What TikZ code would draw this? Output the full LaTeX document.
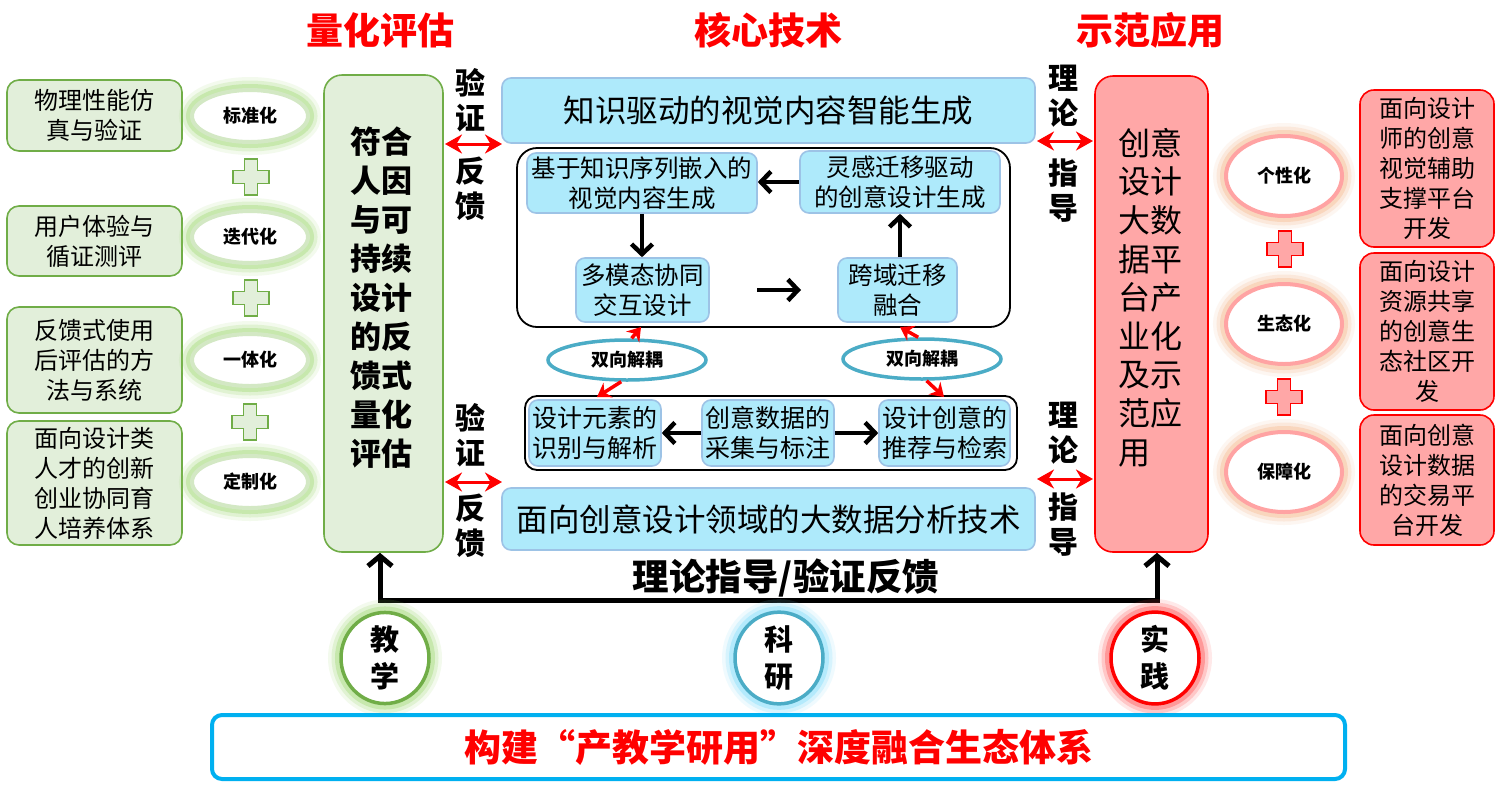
\documentclass[tikz,border=0pt]{standalone}
\usepackage{fontspec}
\setmainfont{Noto Sans CJK SC}
\usetikzlibrary{arrows.meta,shapes.geometric}
\definecolor{gfill}{HTML}{E2EFDA}
\definecolor{gline}{HTML}{70AD47}
\definecolor{gring}{HTML}{D3E8C4}
\definecolor{gglow}{HTML}{9FD873}
\definecolor{bfill}{HTML}{AEEAFB}
\definecolor{bline}{HTML}{9DC3E6}
\definecolor{pfill}{HTML}{FFA7A7}
\definecolor{pring}{HTML}{FFA3A3}
\definecolor{oglow}{HTML}{F6B98E}
\definecolor{tealc}{HTML}{4BACC6}
\definecolor{tglow}{HTML}{7FDDFB}
\definecolor{skyc}{HTML}{00B0F0}
\definecolor{rglow}{HTML}{FF5050}
\tikzset{
  gbox/.style={draw=gline, fill=gfill, line width=1.6pt, rounded corners=12pt, inner sep=0pt, align=center, font=\fontsize{24}{30}\selectfont},
  bbox/.style={draw=bline, fill=bfill, line width=1.6pt, rounded corners=9pt, inner sep=0pt, align=center},
  pbox/.style={draw=red, fill=pfill, line width=1.6pt, rounded corners=14pt, inner sep=0pt, align=center, font=\fontsize{24}{30}\selectfont},
  framebox/.style={draw=black, line width=1.8pt, inner sep=0pt},
  glow/.style={preaction={draw=#1, line width=26pt, opacity=0.12},
               preaction={draw=#1, line width=19pt, opacity=0.22},
               preaction={draw=#1, line width=12pt, opacity=0.38}},
  lell/.style={ellipse, fill=white, draw=gring, line width=4pt, glow=gglow, inner sep=0pt,
               minimum width=116pt, minimum height=52pt, font=\bfseries\fontsize{18}{18}\selectfont},
  rell/.style={ellipse, fill=white, draw=pring, line width=4pt, glow=oglow, inner sep=0pt,
               minimum width=116pt, minimum height=80pt, font=\bfseries\fontsize{18}{18}\selectfont},
  dell/.style={ellipse, fill=white, draw=tealc, line width=3.5pt, inner sep=0pt,
               minimum width=158pt, minimum height=40pt, font=\bfseries\fontsize{18}{18}\selectfont},
  circ/.style={ellipse, fill=white, line width=3.5pt, inner sep=0pt, minimum width=88pt, minimum height=84pt,
               align=center, font=\bfseries\fontsize{29}{37}\selectfont},
  vlab/.style={align=center, inner sep=0pt, font=\bfseries\fontsize{30}{35}\selectfont},
  title/.style={text=red, inner sep=0pt, font=\bfseries\fontsize{37}{37}\selectfont},
  blk/.style={line width=4.5pt, -{Straight Barb[length=10pt,width=21pt]}},
  bigarr/.style={line width=5pt, {Straight Barb[length=10pt,width=24pt]}-{Straight Barb[length=10pt,width=24pt]}},
  rdbl/.style={red, line width=3pt, {Stealth[length=17pt,width=19pt]}-{Stealth[length=17pt,width=19pt]}},
  rarr/.style={red, line width=3.5pt, -{Stealth[length=13pt,width=17pt]}},
  plussign/.pic={\path[pic actions] (-6.5,-18) -- (6.5,-18) -- (6.5,-6.5) -- (18,-6.5) -- (18,6.5) -- (6.5,6.5)
      -- (6.5,18) -- (-6.5,18) -- (-6.5,6.5) -- (-18,6.5) -- (-18,-6.5) -- (-6.5,-6.5) -- cycle;}
}
\begin{document}
\begin{tikzpicture}[x=1pt,y=-1pt]
\useasboundingbox[fill=white] (0,0) rectangle (1500,785);

% titles
\node[title] (t1) at (380,30) {量化评估};
\node[title] (t2) at (768,30) {核心技术};
\node[title] (t3) at (1150,30) {示范应用};

% left column boxes
\node[gbox, minimum width=175pt, minimum height=71pt] (l1) at (94.5,115.5) {物理性能仿\\真与验证};
\node[gbox, minimum width=175pt, minimum height=70pt] (l2) at (94.5,241) {用户体验与\\循证测评};
\node[gbox, minimum width=175pt, minimum height=106pt] (l3) at (94.5,360) {反馈式使用\\后评估的方\\法与系统};
\node[gbox, minimum width=175pt, minimum height=124pt] (l4) at (94.5,483) {面向设计类\\人才的创新\\创业协同育\\人培养体系};

% left ellipses and plus signs
\node[lell] (e1) at (250,116) {标准化};
\node[lell] (e2) at (250,237) {迭代化};
\node[lell] (e3) at (250,360) {一体化};
\node[lell] (e4) at (250,482) {定制化};
\pic[draw=gline, fill=gfill, line width=1.6pt] at (251,177) {plussign};
\pic[draw=gline, fill=gfill, line width=1.6pt] at (251,298) {plussign};
\pic[draw=gline, fill=gfill, line width=1.6pt] at (250,422) {plussign};

% big left box
\node[draw=gline, fill=gfill, line width=1.6pt, rounded corners=18pt, minimum width=119pt, minimum height=477pt] (bl) at (383.5,313.5) {};
\node[align=center, inner sep=0pt, font=\bfseries\fontsize{31}{39}\selectfont] (blt) at (381,297.5) {符合\\人因\\与可\\持续\\设计\\的反\\馈式\\量化\\评估};

% big right box
\node[draw=red, fill=pfill, line width=1.6pt, rounded corners=18pt, minimum width=113pt, minimum height=476pt] (br) at (1151.5,314) {};
\node[align=left, inner sep=0pt, font=\fontsize{32}{38.6}\selectfont] (brt) at (1150,297.5) {创意\\设计\\大数\\据平\\台产\\业化\\及示\\范应\\用};

% right ellipses and plus signs
\node[rell] (r1) at (1284,176) {个性化};
\node[rell] (r2) at (1284,324) {生态化};
\node[rell] (r3) at (1284,472) {保障化};
\pic[draw=red, fill=pfill, line width=1.6pt] at (1285,249) {plussign};
\pic[draw=red, fill=pfill, line width=1.6pt] at (1284,397) {plussign};

% right column boxes
\node[pbox, minimum width=134pt, minimum height=157pt] (p1) at (1427,168.5) {面向设计\\师的创意\\视觉辅助\\支撑平台\\开发};
\node[pbox, minimum width=134pt, minimum height=157pt] (p2) at (1427,331.5) {面向设计\\资源共享\\的创意生\\态社区开\\发};
\node[pbox, minimum width=134pt, minimum height=130pt] (p3) at (1427,480) {面向创意\\设计数据\\的交易平\\台开发};

% center column
\node[bbox, minimum width=533pt, minimum height=65pt, font=\fontsize{31.5}{36}\selectfont] (top) at (768.5,110.5) {知识驱动的视觉内容智能生成};
\node[framebox, rounded corners=20pt, minimum width=493pt, minimum height=179pt] (fr1) at (763.5,237.5) {};
\node[bbox, minimum width=230pt, minimum height=60pt, font=\fontsize{24.5}{30}\selectfont] (b1) at (642,183) {基于知识序列嵌入的\\视觉内容生成};
\node[bbox, minimum width=200pt, minimum height=62pt, font=\fontsize{24.5}{30}\selectfont] (b2) at (900,182) {灵感迁移驱动\\的创意设计生成};
\node[bbox, minimum width=133pt, minimum height=64pt, font=\fontsize{24.5}{30}\selectfont] (b3) at (642.5,290) {多模态协同\\交互设计};
\node[bbox, minimum width=119pt, minimum height=64pt, font=\fontsize{24.5}{30}\selectfont] (b4) at (897.5,290) {跨域迁移\\融合};

\draw[blk] (b2.west) -- (b2.west -| b1.east);
\draw[blk] (b1.south) -- (b1.south |- b3.north);
\draw[blk] (b2.south |- b4.north) -- (b2.south);
\coordinate (fa) at (757,290);
\coordinate (fb) at (801,290);
\draw[blk] (fa) -- (fb);

\node[dell] (d1) at (627,360) {双向解耦};
\node[dell] (d2) at (922,359) {双向解耦};

\node[framebox, rounded corners=12pt, minimum width=492pt, minimum height=74pt] (fr2) at (771,433) {};
\node[bbox, minimum width=132pt, minimum height=66pt, font=\fontsize{25}{30}\selectfont] (c1) at (595,433) {设计元素的\\识别与解析};
\node[bbox, minimum width=132pt, minimum height=66pt, font=\fontsize{25}{30}\selectfont] (c2) at (768,433) {创意数据的\\采集与标注};
\node[bbox, minimum width=131pt, minimum height=66pt, font=\fontsize{25}{30}\selectfont] (c3) at (944.5,433) {设计创意的\\推荐与检索};
\draw[blk] (c2.west) -- (c1.east);
\draw[blk] (c2.east) -- (c3.west);

\coordinate (u1) at (641,327);
\coordinate (u2) at (597,397);
\coordinate (u3) at (900,327);
\coordinate (u4) at (944,397);
\draw[rarr] (d1.78) -- (u1);
\draw[rarr] (d1.255) -- (u2);
\draw[rarr] (d2.100) -- (u3);
\draw[rarr] (d2.282) -- (u4);

\node[bbox, minimum width=533pt, minimum height=62pt, font=\fontsize{31.5}{36}\selectfont] (bot) at (768.5,519) {面向创意设计领域的大数据分析技术};

% vertical labels
\node[vlab] (v1) at (470,100) {验\\证};
\node[vlab] (v2) at (470,189) {反\\馈};
\node[vlab] (v3) at (470,435) {验\\证};
\node[vlab] (v4) at (470,526) {反\\馈};
\node[vlab] (w1) at (1063,96) {理\\论};
\node[vlab] (w2) at (1063,191) {指\\导};
\node[vlab] (w3) at (1063,433) {理\\论};
\node[vlab] (w4) at (1063,525) {指\\导};

\coordinate (a1) at (445,144); \coordinate (a2) at (502,144);
\coordinate (a3) at (445,482); \coordinate (a4) at (502,482);
\coordinate (a5) at (1037,141); \coordinate (a6) at (1093,141);
\coordinate (a7) at (1037,479); \coordinate (a8) at (1093,479);
\draw[rdbl] (a1) -- (a2);
\draw[rdbl] (a3) -- (a4);
\draw[rdbl] (a5) -- (a6);
\draw[rdbl] (a7) -- (a8);

% bottom feedback arrow
\draw[bigarr] ([xshift=-3.5pt]bl.south) -- ++(0,48) -| ([xshift=5.5pt]br.south);
\node[inner sep=0pt, font=\bfseries\fontsize{36.5}{36.5}\selectfont] (fb2) at (786,578) {理论指导/验证反馈};

% bottom circles
\node[circ, draw=gline, glow=gglow] (k1) at (385,658) {教\\学};
\node[circ, draw=tealc, glow=tglow] (k2) at (779,658) {科\\研};
\node[circ, draw=red, glow=rglow] (k3) at (1155,658) {实\\践};

% banner
\node[draw=skyc, fill=white, line width=4pt, rounded corners=10pt, minimum width=1133pt, minimum height=64pt,
      text=red, font=\bfseries\fontsize{37}{37}\selectfont] (ban) at (778.5,747) {构建“产教学研用”深度融合生态体系};
\end{tikzpicture}
\end{document}
